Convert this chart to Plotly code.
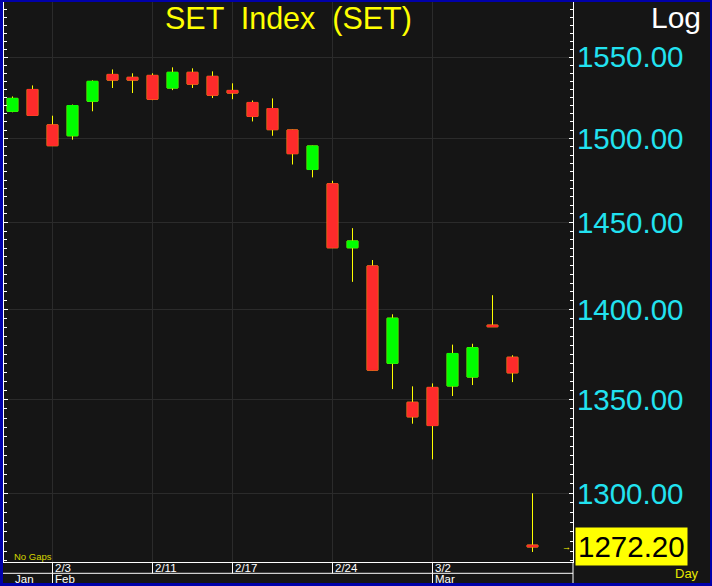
import math
import plotly.graph_objects as go

# ---------------- data ----------------
dates = ["1/30", "1/31", "2/3", "2/4", "2/5", "2/6", "2/7", "2/11", "2/12", "2/13",
         "2/14", "2/17", "2/18", "2/19", "2/20", "2/21", "2/24", "2/25", "2/26", "2/27",
         "2/28", "3/2", "3/3", "3/4", "3/5", "3/6", "3/9"]
opens = [1516.5, 1529.9, 1508.2, 1501.6, 1522.7, 1539.2, 1537.4, 1538.6, 1530.8, 1540.5,
         1538.0, 1529.3, 1521.9, 1518.2, 1505.1, 1481.3, 1472.8, 1435.3, 1424.8, 1370.0,
         1348.6, 1356.7, 1357.5, 1362.4, 1391.2, 1373.3, 1273.1]
highs = [1525.6, 1532.4, 1513.8, 1520.6, 1535.5, 1542.3, 1539.9, 1539.9, 1543.6, 1543.0,
         1541.1, 1533.7, 1523.1, 1524.4, 1505.3, 1495.6, 1474.6, 1446.7, 1428.2, 1397.3,
         1357.3, 1358.9, 1380.3, 1380.8, 1408.1, 1374.4, 1300.0]
lows = [1515.9, 1513.8, 1495.5, 1499.2, 1516.5, 1530.8, 1527.7, 1523.3, 1529.5, 1530.8,
        1524.6, 1523.9, 1510.3, 1501.6, 1484.3, 1476.6, 1435.2, 1415.7, 1366.1, 1355.8,
        1337.0, 1317.9, 1352.0, 1358.0, 1390.3, 1359.6, 1269.6]
closes = [1524.4, 1514.0, 1495.6, 1520.0, 1534.9, 1535.7, 1535.7, 1523.9, 1540.5, 1533.2,
          1526.4, 1527.7, 1513.4, 1505.3, 1490.8, 1495.4, 1435.3, 1439.2, 1366.2, 1395.1,
          1340.7, 1336.0, 1375.4, 1378.6, 1390.3, 1364.7, 1272.2]

week_labels = ["2/3", "2/11", "2/17", "2/24", "3/2"]
month_labels = ["Jan", "Feb", "Mar"]
month_starts = ["1/30", "2/3", "3/2"]
price_ticks = [1300, 1350, 1400, 1450, 1500, 1550]
minor_ticks = list(range(1265, 1590, 5))
last_price = closes[-1]
title_text = "SET  Index  (SET)"

# ---------------- style ----------------
BG = "#151515"
BLUE = "#0000AA"
GRID = "#2b2b2b"
GREEN = "#00FF00"
RED = "#FF2B2B"
YELLOW = "#FFFF00"
CYAN = "#22E2F0"
FONT = "Liberation Sans, Arial, sans-serif"
NARROW = "Liberation Sans Narrow, Arial Narrow, Liberation Sans, Arial, sans-serif"

W, H = 712, 586
L, R, T, B = 4, 139, 2, 24
PW, PH = W - L - R, H - T - B


def px_x(px):
    return (px - L) / PW


def px_y(py):
    return (H - B - py) / PH


x_idx = list(range(len(dates)))
body_hi = [max(o, c) for o, c in zip(opens, closes)]
body_lo = [min(o, c) for o, c in zip(opens, closes)]

fig = go.Figure()
# wicks (yellow)
fig.add_trace(go.Candlestick(
    x=x_idx, open=opens, high=highs, low=lows, close=closes,
    increasing=dict(line=dict(color=YELLOW, width=1), fillcolor=YELLOW),
    decreasing=dict(line=dict(color=YELLOW, width=1), fillcolor=YELLOW),
    whiskerwidth=0, showlegend=False, hoverinfo="skip"))
# bodies (green/red)
fig.add_trace(go.Candlestick(
    x=x_idx, open=opens, high=body_hi, low=body_lo, close=closes,
    increasing=dict(line=dict(color=GREEN, width=1), fillcolor=GREEN),
    decreasing=dict(line=dict(color=RED, width=1), fillcolor=RED),
    whiskerwidth=0, showlegend=False))

week_idx = [dates.index(d) for d in week_labels]
month_idx = [dates.index(d) for d in month_starts]

shapes = [
    # dark inner panel over blue paper
    dict(type="rect", xref="paper", yref="paper", x0=px_x(3), x1=px_x(710),
         y0=px_y(583), y1=px_y(2), fillcolor=BG, line=dict(width=0), layer="below"),
    # second row separator line
    dict(type="line", xref="paper", yref="paper", x0=px_x(3), x1=1,
         y0=px_y(573.3), y1=px_y(573.3), line=dict(color="white", width=1)),
    # right axis continuation down
    dict(type="line", xref="paper", yref="paper", x0=1, x1=1,
         y0=px_y(583), y1=0, line=dict(color="white", width=1)),
]
for i in week_idx:
    shapes.append(dict(type="line", xref="x", yref="paper", x0=i, x1=i,
                       y0=px_y(573.3), y1=0, line=dict(color="white", width=1)))
for i in month_idx[1:]:
    shapes.append(dict(type="line", xref="x", yref="paper", x0=i, x1=i,
                       y0=px_y(583), y1=px_y(573.3), line=dict(color="white", width=1)))

y_last = math.log10(last_price)  # annotations on log axes use log10 coordinates

annotations = [
    dict(text=title_text, xref="paper", yref="paper", x=0.5, y=px_y(18.8),
         xanchor="center", yanchor="middle", showarrow=False,
         font=dict(family=FONT, size=30.5, color=YELLOW)),
    dict(text="Log", xref="paper", yref="paper", x=px_x(703), y=px_y(17.5),
         xanchor="right", yanchor="middle", showarrow=False,
         font=dict(family=FONT, size=30, color="white")),
    dict(text="No Gaps", xref="paper", yref="paper", x=px_x(12), y=px_y(556),
         xanchor="left", yanchor="middle", showarrow=False,
         font=dict(family=FONT, size=9.5, color="#D6D600")),
    dict(text="Day", xref="paper", yref="paper", x=px_x(701), y=px_y(573.5),
         xanchor="right", yanchor="middle", showarrow=False,
         font=dict(family=NARROW, size=13, color="#E8E800")),
    dict(text=f"{last_price:.2f}", xref="paper", yref="y", x=px_x(575), y=y_last,
         xanchor="left", yanchor="middle", showarrow=False, bgcolor=YELLOW,
         borderpad=2, font=dict(family=FONT, size=29.5, color="black")),
    dict(text="\u2192", xref="paper", yref="y", x=px_x(566), y=y_last,
         xanchor="center", yanchor="middle", showarrow=False,
         font=dict(family=FONT, size=9, color=YELLOW)),
]
for lab, i in zip(week_labels, week_idx):
    annotations.append(dict(text=lab, xref="x", yref="paper", x=i, y=px_y(567.8),
                            xanchor="left", yanchor="middle", xshift=0, showarrow=False,
                            font=dict(family=NARROW, size=11.5, color="white")))
for lab, i in zip(month_labels, month_idx):
    annotations.append(dict(text=lab, xref="x", yref="paper", x=i, y=px_y(578.5),
                            xanchor="left", yanchor="middle", xshift=0, showarrow=False,
                            font=dict(family=NARROW, size=11.5, color="white")))

fig.update_layout(
    width=W, height=H,
    margin=dict(l=L, r=R, t=T, b=B, pad=0),
    paper_bgcolor=BLUE, plot_bgcolor=BG,
    boxgap=0.465, boxgroupgap=0,
    showlegend=False,
    xaxis=dict(range=[(L - 12.5) / 20, (W - R - 12.5) / 20], rangeslider=dict(visible=False),
               tickmode="array", tickvals=week_idx, showticklabels=False, ticks="",
               showgrid=True, gridcolor=GRID, gridwidth=1, zeroline=False,
               showline=True, linecolor="white", linewidth=1, mirror=False),
    yaxis=dict(type="log", range=[3.101912, 3.199979], side="right",
               tickmode="array", tickvals=price_ticks,
               ticktext=[f"{v:.2f}" for v in price_ticks],
               tickfont=dict(family=FONT, size=29.5, color=CYAN),
               ticklabelstandoff=-3,
               ticks="inside", ticklen=4, tickcolor="white", tickwidth=1,
               showgrid=True, gridcolor=GRID, gridwidth=1,
               showline=True, linecolor="white", linewidth=1, mirror="ticks",
               minor=dict(tickmode="array", tickvals=minor_ticks, ticks="inside",
                          ticklen=3, tickcolor="white", tickwidth=1, showgrid=False)),
    shapes=shapes, annotations=annotations,
)

fig.write_html("out.html", config={"displayModeBar": False},
               post_script="document.body.style.margin='0';document.body.style.overflow='hidden';")
